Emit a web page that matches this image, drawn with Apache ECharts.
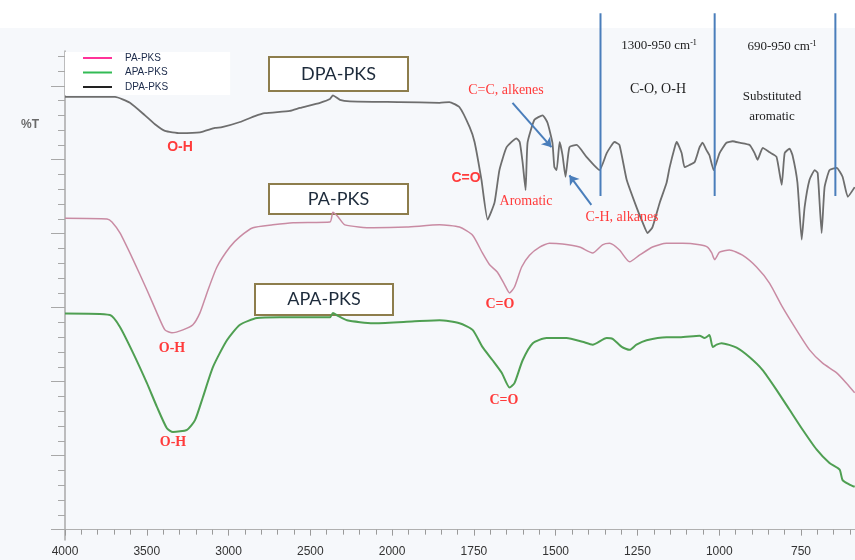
<!DOCTYPE html>
<html>
<head>
<meta charset="utf-8">
<script src="https://cdn.jsdelivr.net/npm/echarts@6/dist/echarts.min.js"></script>
<style>
html,body{margin:0;padding:0;background:#fff;}
#c{width:855px;height:560px;}
</style>
</head>
<body>
<div id="c"></div>
<script>
// ---------- data (wavenumber cm-1, %T arbitrary offset units) ----------
const seriesNames = ['PA-PKS', 'APA-PKS', 'DPA-PKS'];
const xTickLabels = [4000, 3500, 3000, 2500, 2000, 1750, 1500, 1250, 1000, 750];

const dpaWn = [4000,3694,3603,3511,3450,3389,3297,3175,3083,3040,2930,2839,2778,2625,2564,2441,2380,2362,2319,2258,1977,1855,1825,1794,1763,1748,1727,1708,1687,1672,1650,1620,1610,1601,1592,1586,1565,1540,1525,1510,1504,1497,1488,1479,1470,1458,1436,1406,1366,1344,1320,1305,1283,1253,1234,1219,1204,1182,1161,1152,1136,1130,1115,1106,1091,1075,1060,1051,1039,1030,1017,999,978,959,938,907,892,883,867,846,825,809,800,785,776,761,748,739,724,708,699,687,678,663,641,623,607,586];
const dpaT = [58.5,58.5,57.7,56.0,54.8,53.9,53.6,53.7,54.3,54.4,55.1,55.9,56.3,56.6,57.0,57.7,58.2,58.7,58.1,57.9,57.8,57.7,57.8,57.1,54.4,52.4,47.3,41.9,44.2,48.6,51.7,52.9,52.4,49.6,45.9,52.3,55.4,56.0,55.0,52.3,49.0,48.6,52.4,50.6,47.7,51.7,52.0,50.4,48.6,50.9,52.4,52.0,47.3,43.6,41.5,40.1,40.9,44.2,46.9,48.9,51.7,52.4,50.9,49.0,49.3,49.7,51.7,52.3,51.3,50.6,48.6,50.9,52.3,52.5,52.3,52.0,50.9,50.0,51.6,51.0,50.4,46.6,50.9,51.5,50.6,46.9,39.2,43.6,47.3,48.6,48.2,40.1,46.3,48.6,48.9,47.7,45.0,46.3];

const paWn = [4000,3743,3713,3664,3584,3499,3438,3389,3346,3279,3218,3175,3132,3071,2992,2930,2851,2729,2606,2380,2362,2331,2289,2117,1956,1855,1794,1754,1724,1702,1678,1656,1641,1626,1604,1580,1549,1519,1479,1427,1387,1357,1335,1305,1274,1244,1204,1161,1112,1060,1036,1023,1014,999,969,929,886,846,807,764,724,684,641,611,586];
const paT = [42.1,42.0,41.6,40.1,36.5,32.4,29.3,27.0,26.6,27.0,27.7,29.3,32.0,35.5,38.2,39.6,40.8,41.2,41.5,41.6,42.9,42.3,41.2,40.8,40.9,41.2,40.9,39.8,37.4,35.8,34.8,33.1,32.0,32.8,35.5,37.1,38.2,38.7,38.6,38.2,37.4,38.5,38.7,37.8,36.2,37.1,38.2,38.7,38.7,38.5,38.2,37.4,36.5,37.5,37.8,37.1,35.5,33.3,30.1,27.0,24.3,22.5,21.2,19.8,18.5];

const apaWn = [4000,3725,3664,3584,3499,3438,3377,3340,3254,3205,3157,3095,3010,2930,2826,2686,2380,2362,2331,2276,2117,1956,1855,1794,1754,1724,1693,1665,1641,1626,1601,1570,1528,1467,1418,1387,1344,1326,1298,1274,1253,1222,1161,1121,1060,1045,1030,1020,1008,993,947,907,868,825,785,745,702,663,632,623,602,586];
const apaT = [29.2,29.0,27.4,23.9,19.8,16.6,13.7,13.2,13.5,14.8,17.9,22.0,25.6,27.7,28.6,28.7,28.7,29.3,28.9,28.3,27.9,28.1,28.3,27.9,27.0,24.7,22.9,21.2,19.2,19.8,22.9,25.2,25.9,25.9,25.4,25.0,25.9,25.8,24.7,24.3,25.0,25.6,26.0,26.0,26.2,25.9,26.3,24.7,25.0,25.2,24.6,23.3,21.6,18.9,16.2,13.5,10.8,9.0,8.1,6.7,6.1,5.8];

// region boundary lines (cm-1) and their vertical extent (%T units)
const regionLinesWn = [1363, 1014, 645];
const regionLineT = [69.8, 45.1];
// arrows: [fromWn, fromT, toWn, toT]
const arrowCC = [1632, 57.7, 1513, 51.7];
const arrowCH = [1391, 43.9, 1458, 47.9];

// y-axis tick values (%T units)
const yMajorTicks = [0, 10, 20, 30, 40, 50, 60];
const yMinorTicks = [2,4,6,8,12,14,16,18,22,24,26,28,32,34,36,38,42,44,46,48,52,54,56,58,62,64];
const yMin = -1.4, yMax = 64.7;
const wnMax = 585;

// ---------- split wavenumber scale (500 per major below 2000, 250 above) ----------
function toU(wn) { return wn >= 2000 ? (4000 - wn) / 500 : 4 + (2000 - wn) / 250; }
function fromU(u) { return u <= 4 ? 4000 - 500 * u : 2000 - 250 * (u - 4); }
function pairs(wn, t) { return wn.map((w, i) => [toU(w), t[i]]); }

const chart = echarts.init(document.getElementById('c'));

const serif = '"Liberation Serif", "DejaVu Serif", serif';
const sans = '"Liberation Sans", Arial, sans-serif';
const red = '#ff3b3b';
const blue = '#4a7ebb';

function boxLabel(text, left, top, w, h) {
  return {
    type: 'group', left: left, top: top, z: 50,
    children: [
      { type: 'rect', shape: { x: 0, y: 0, width: w, height: h },
        style: { fill: '#ffffff', stroke: '#8d7d4c', lineWidth: 2 } },
      { type: 'text', x: w / 2, y: h / 2,
        style: { text: text, align: 'center', verticalAlign: 'middle',
                 font: '18px Lato, "Open Sans", sans-serif', fill: '#1d2b3b' } }
    ]
  };
}
function txt(text, x, y, font, color) {
  return { type: 'text', x: x, y: y, z: 60,
    style: { text: text, align: 'center', verticalAlign: 'middle', font: font, fill: color } };
}
function supTxt(main, sup, x, y) {
  return { type: 'text', x: x, y: y, z: 60,
    style: { text: '{a|' + main + '}{s|' + sup + '}', align: 'center', verticalAlign: 'middle',
      rich: { a: { fontFamily: serif, fontSize: 13, fill: '#222', color: '#222' },
              s: { fontFamily: serif, fontSize: 8, color: '#222', verticalAlign: 'top', padding: [0, 0, 7, 0] } } } };
}

const vlineSeries = regionLinesWn.map((w, i) => ({
  name: 'region' + i, type: 'line', silent: true, clip: false, symbol: 'none',
  lineStyle: { color: blue, width: 2 }, z: 5, animation: false,
  data: [[toU(w), regionLineT[0]], [toU(w), regionLineT[1]]]
}));

const option = {
  backgroundColor: '#f6f8fb',
  animation: false,
  grid: { left: 65, right: 0, top: 51, bottom: 20, containLabel: false },
  legend: {
    orient: 'vertical', left: 65, top: 52,
    padding: [1, 62, 3, 18], itemGap: 4.5,
    backgroundColor: '#ffffff',
    icon: 'rect', itemWidth: 29, itemHeight: 2,
    textStyle: { fontSize: 10, fontFamily: sans, color: '#1b2a4a', padding: [0, 0, 0, 8] },
    data: [
      { name: seriesNames[0], itemStyle: { color: '#ff3399' } },
      { name: seriesNames[1], itemStyle: { color: '#33bb55' } },
      { name: seriesNames[2], itemStyle: { color: '#222222' } }
    ]
  },
  xAxis: [{
    type: 'value', min: 0, max: toU(wnMax), interval: 1,
    axisLine: { show: true, lineStyle: { color: '#9a9a9a', width: 1 } },
    axisTick: { show: true, length: 6, lineStyle: { color: '#9a9a9a' } },
    minorTick: { show: true, splitNumber: 5, length: 5, lineStyle: { color: '#9a9a9a' } },
    splitLine: { show: false },
    axisLabel: { showMaxLabel: false, margin: 6, fontSize: 12, fontFamily: sans, color: '#333',
      formatter: function (v) { return String(Math.round(fromU(v))); } }
  }, {
    type: 'value', position: 'top', min: 0, max: 1,
    axisLine: { show: true, lineStyle: { color: '#b0b0b0', width: 1 } },
    axisTick: { show: false }, axisLabel: { show: false }, splitLine: { show: false }
  }],
  yAxis: [{
    type: 'value', position: 'left', min: yMin, max: yMax,
    axisLine: { show: true, lineStyle: { color: '#a8a8a8', width: 1.5 } },
    axisTick: { show: true, length: 14, customValues: yMajorTicks, lineStyle: { color: '#a8a8a8' } },
    axisLabel: { show: false }, splitLine: { show: false }
  }, {
    type: 'value', position: 'left', min: yMin, max: yMax,
    axisLine: { show: false },
    axisTick: { show: true, length: 7, customValues: yMinorTicks, lineStyle: { color: '#a8a8a8' } },
    axisLabel: { show: false }, splitLine: { show: false }
  }],
  series: [
    { name: seriesNames[0], type: 'line', symbol: 'none', smooth: 0.2,
      lineStyle: { color: '#c98ba3', width: 1.5 }, itemStyle: { color: '#c98ba3' },
      data: pairs(paWn, paT) },
    { name: seriesNames[1], type: 'line', symbol: 'none', smooth: 0.2,
      lineStyle: { color: '#4f9f52', width: 2 }, itemStyle: { color: '#4f9f52' },
      data: pairs(apaWn, apaT) },
    { name: seriesNames[2], type: 'line', symbol: 'none', smooth: 0.15,
      lineStyle: { color: '#6e6e6e', width: 1.8 }, itemStyle: { color: '#6e6e6e' },
      data: pairs(dpaWn, dpaT),
      markLine: {
        silent: true, symbol: ['none', 'arrow'], symbolSize: 9, animation: false,
        label: { show: false },
        lineStyle: { color: blue, width: 2, type: 'solid' },
        data: [
          [{ coord: [toU(arrowCC[0]), arrowCC[1]] }, { coord: [toU(arrowCC[2]), arrowCC[3]] }],
          [{ coord: [toU(arrowCH[0]), arrowCH[1]] }, { coord: [toU(arrowCH[2]), arrowCH[3]] }]
        ]
      } }
  ].concat(vlineSeries),
  graphic: [
    { type: 'rect', left: 0, top: 0, z: -10, shape: { width: 855, height: 28 }, style: { fill: '#ffffff' } },
    txt('%T', 30, 125, 'bold 12px ' + sans, '#6a6a6a'),
    boxLabel('DPA-PKS', 268, 56, 139, 34),
    boxLabel('PA-PKS', 268, 183, 139, 30),
    boxLabel('APA-PKS', 254, 283, 138, 31),
    txt('O-H', 180, 147, 'bold 14px ' + sans, red),
    txt('O-H', 172, 348, 'bold 14px ' + serif, red),
    txt('O-H', 173, 442, 'bold 14px ' + serif, red),
    txt('C=O', 466, 178, 'bold 14px ' + sans, red),
    txt('C=O', 500, 304, 'bold 14px ' + serif, red),
    txt('C=O', 504, 400, 'bold 14px ' + serif, red),
    txt('Aromatic', 526, 201, '14px ' + serif, red),
    txt('C=C, alkenes', 506, 90, '14px ' + serif, red),
    txt('C-H, alkanes', 622, 217, '14px ' + serif, red),
    supTxt('1300-950 cm', '-1', 659, 46),
    supTxt('690-950 cm', '-1', 782, 47),
    txt('C-O, O-H', 658, 89, '14px ' + serif, '#222'),
    txt('Substituted', 772, 97, '13px ' + serif, '#222'),
    txt('aromatic', 772, 117, '13px ' + serif, '#222')
  ]
};
chart.setOption(option);
</script>
</body>
</html>
